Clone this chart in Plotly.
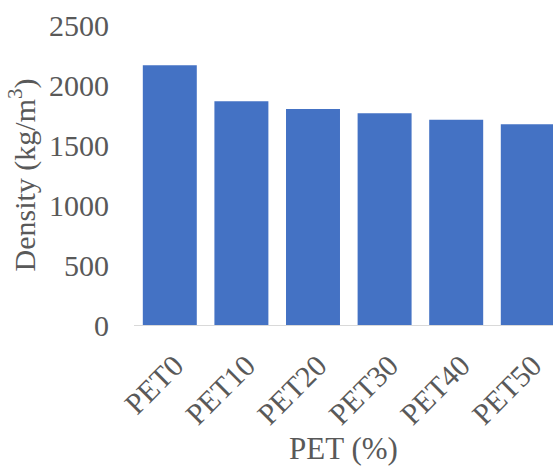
import plotly.graph_objects as go

categories = ["PET0", "PET10", "PET20", "PET30", "PET40", "PET50"]
density = [2164, 1864, 1800, 1764, 1711, 1672]
y_ticks = [0, 500, 1000, 1500, 2000, 2500]

font_family = "Liberation Serif, Times New Roman, serif"
txt = "#595959"

fig = go.Figure(go.Bar(x=categories, y=density, marker=dict(color="#4472C4", line=dict(width=0))))

fig.update_layout(
    width=553, height=466,
    margin=dict(l=134, r=0, t=25, b=141),
    paper_bgcolor="white", plot_bgcolor="white",
    bargap=0.246,
    showlegend=False,
    font=dict(family=font_family, color=txt, size=30),
)
fig.update_xaxes(
    range=[-0.5, 5.352],
    showline=True, linecolor="#D9D9D9", linewidth=1,
    showgrid=False, ticks="",
    tickangle=-45,
    ticklabelstandoff=10, ticklabelshift=5,
    tickfont=dict(family=font_family, size=30, color=txt),
    title=dict(text="PET (%)", font=dict(family=font_family, size=31, color=txt), standoff=12),
)
fig.update_yaxes(
    range=[0, 2500],
    tickvals=y_ticks,
    showline=False, showgrid=False, zeroline=False, ticks="",
    ticklabelstandoff=24,
    tickfont=dict(family=font_family, size=30, color=txt),
    title=dict(text="Density (kg/m<sup>3</sup>)", font=dict(family=font_family, size=30, color=txt), standoff=4),
)

fig.write_html("out.html")
